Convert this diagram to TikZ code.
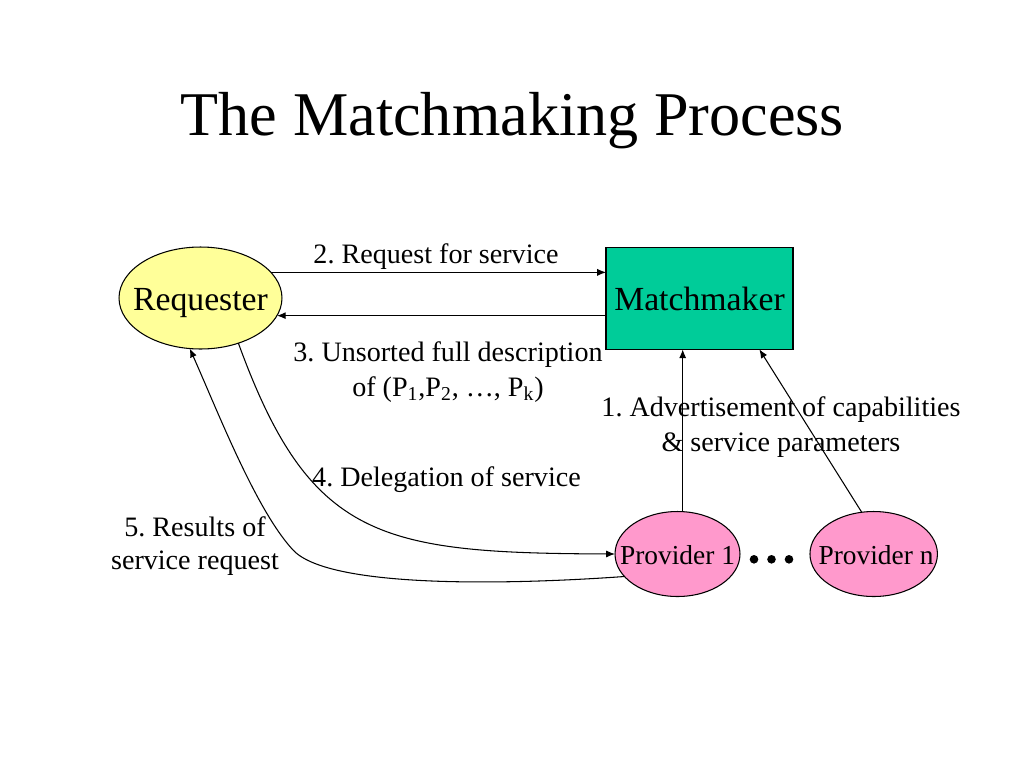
\documentclass[tikz,border=0pt]{standalone}
\usepackage{fontspec}
\setmainfont{Liberation Serif}
\usetikzlibrary{arrows.meta,calc,shapes.geometric}
\definecolor{reqfill}{HTML}{FFFF99}
\definecolor{mmfill}{HTML}{00CC99}
\definecolor{provfill}{HTML}{FF99CC}
\frenchspacing
\begin{document}
\begin{tikzpicture}[x=0.02cm,y=-0.02cm,
  every node/.style={inner sep=0pt,outer sep=0pt},
  conn/.style={line width=0.6pt,-{Latex[length=5pt,width=4pt]}},
  lbl/.style={font=\fontsize{16pt}{19.5pt}\selectfont,align=center},
  bigtxt/.style={font=\fontsize{19.2pt}{22pt}\selectfont},
  provtxt/.style={font=\fontsize{15.6pt}{18pt}\selectfont}]
\useasboundingbox (0,0) rectangle (1024,768);
% title
\node[font=\fontsize{35.4pt}{40pt}\selectfont,anchor=base] (title) at (512.5,135) {The Matchmaking Process};
% nodes
\node[ellipse,draw,line width=0.6pt,fill=reqfill,minimum width=3.26cm,minimum height=2.04cm] (req) at (200.5,298) {};
\node[bigtxt,anchor=base] (reqt) at (200.5,310) {Requester};
\node[rectangle,draw,line width=0.6pt,fill=mmfill,minimum width=3.74cm,minimum height=2.04cm] (mm) at (699.5,298.3) {};
\node[bigtxt,anchor=base] (mmt) at (699.5,310.5) {Matchmaker};
\node[ellipse,draw,line width=0.6pt,fill=provfill,minimum width=2.5cm,minimum height=1.7cm] (p1) at (677.5,554) {};
\node[provtxt,anchor=base] (p1t) at (677.5,564) {Provider 1};
\node[ellipse,draw,line width=0.6pt,fill=provfill,minimum width=2.55cm,minimum height=1.7cm] (pn) at (873.7,554) {};
\node[provtxt,anchor=base] (pnt) at (876,564) {Provider n};
% dots
\fill (754,559.3) circle (4.3);
\fill (771.5,559.3) circle (4.3);
\fill (789,559.3) circle (4.3);
% connectors
\draw[conn] (req.20.4) -- (req.20.4 -| mm.west);
\draw[conn] (req.-13.3 -| mm.west) -- (req.-13.3);
\draw[conn] (p1.83) -- (p1.83 |- mm.south);
\draw[conn] (pn.106) -- ($(mm.south west)!0.82!(mm.south east)$);
\draw[conn] (req.-50) .. controls (310,540) and (380,553) .. (p1.west);
\draw[conn] (p1.-157) .. controls (520,584) and (330,590) .. (293,550)
   .. controls (256,510) and (218,412) .. (req.-102);
% labels
\node[lbl,anchor=base] (l2) at (436,263) {2. Request for service};
\node[lbl,anchor=base] (l3) at (448,396) {3. Unsorted full description\\of (P\textsubscript{1},P\textsubscript{2}, …, P\textsubscript{k})};
\node[lbl,anchor=base] (l1) at (781,451) {1. Advertisement of capabilities\\\& service parameters};
\node[lbl,anchor=base] (l4) at (446.5,486) {4. Delegation of service};
\node[lbl,anchor=base,font=\fontsize{16pt}{18.3pt}\selectfont] (l5) at (195,569) {5. Results of\\service request};
\end{tikzpicture}
\end{document}
